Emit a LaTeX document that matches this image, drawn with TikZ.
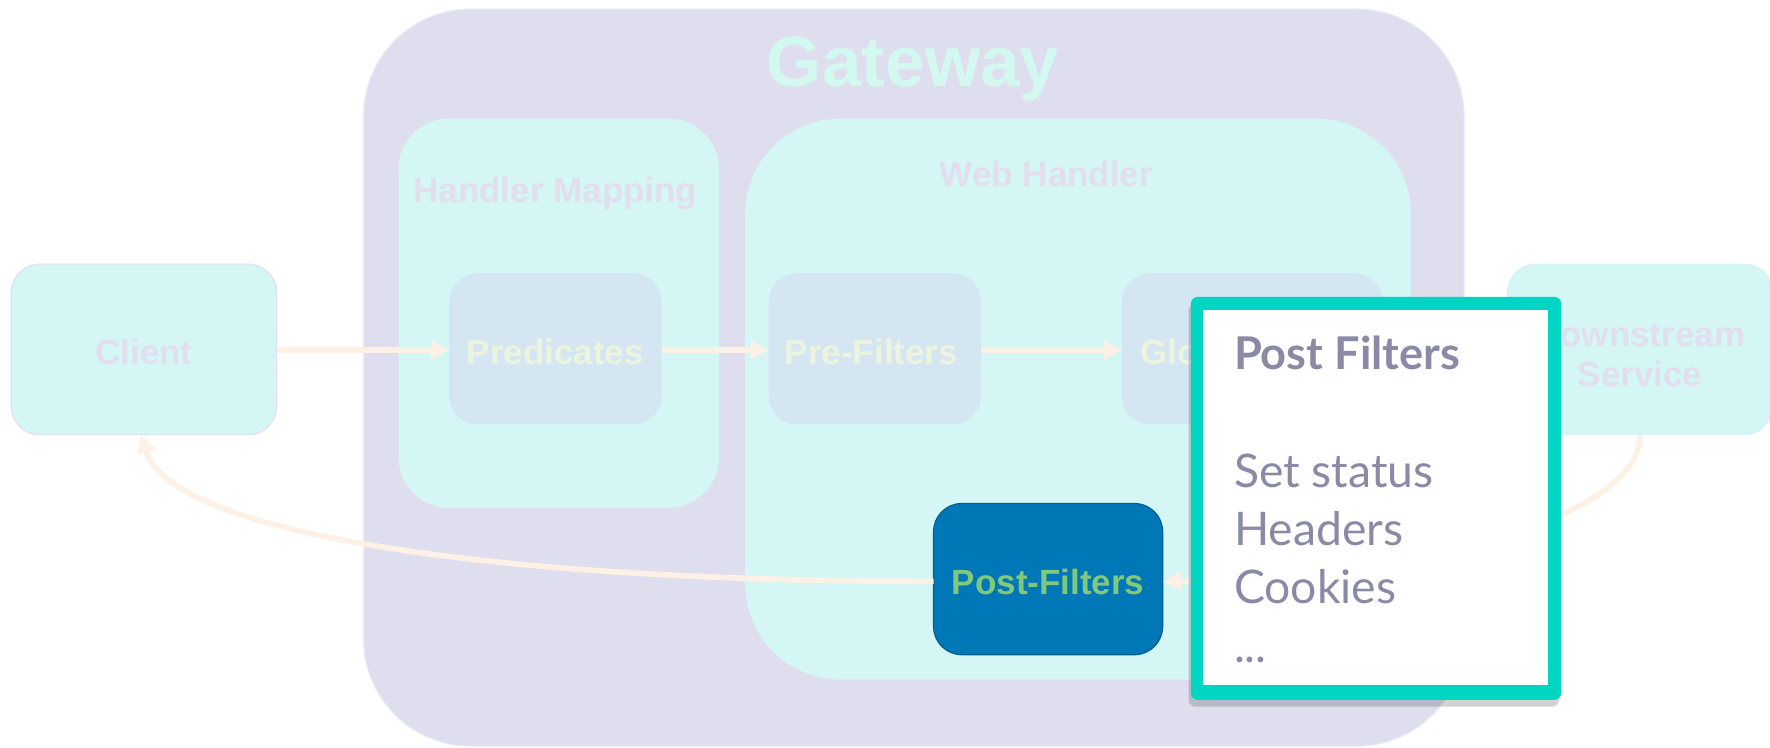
\documentclass[tikz,border=0pt]{standalone}
\usepackage{fontspec}
\setmainfont{Liberation Sans}
\newfontfamily\cardfont{Lato}
\usetikzlibrary{arrows.meta,shadows}
\definecolor{gwfill}{RGB}{222,222,238}
\definecolor{cyanbox}{RGB}{212,246,244}
\definecolor{lav}{RGB}{226,222,240}
\definecolor{gwtext}{RGB}{210,248,240}
\definecolor{bluebox}{RGB}{211,230,241}
\definecolor{paletext}{RGB}{236,243,222}
\definecolor{arrowc}{RGB}{252,241,228}
\definecolor{postblue}{RGB}{0,119,182}
\definecolor{postgreen}{RGB}{128,201,123}
\definecolor{tealb}{RGB}{0,213,194}
\definecolor{cardtext}{RGB}{138,138,166}
\begin{document}
\begin{tikzpicture}[x=1pt,y=-1pt,
  rbox/.style={inner sep=0pt,outer sep=0pt},
  lbl/.style={inner sep=0pt,anchor=base,font=\fontsize{31}{36}\selectfont\bfseries},
  flow/.style={draw=arrowc,line width=5pt,-{Triangle[length=16pt,width=16pt]}},
  cardt/.style={inner sep=0pt,anchor=base west,text=cardtext,font=\cardfont\fontsize{41}{48}\selectfont}
]
\useasboundingbox (0,0) rectangle (1568,662);
% containers
\node[rbox,fill=gwfill,draw=gwfill!60!white,line width=1pt,rounded corners=95pt,minimum width=975pt,minimum height=653pt] (gw) at (809.5,334.5) {};
\node[lbl,text=gwtext,font=\fontsize{63}{70}\selectfont\bfseries] (gwt) at (809,77) {Gateway};
\node[rbox,fill=cyanbox,rounded corners=45pt,minimum width=284pt,minimum height=345pt] (hm) at (495,277.5) {};
\node[lbl,text=lav] (hmt) at (492,179) {Handler Mapping};
\node[rbox,fill=cyanbox,rounded corners=85pt,minimum width=590pt,minimum height=497pt] (wh) at (955,353.5) {};
\node[lbl,text=lav] (wht) at (927,165) {Web Handler};
% outer boxes
\node[rbox,fill=cyanbox,draw=lav,line width=1pt,rounded corners=25pt,minimum width=235pt,minimum height=151pt] (client) at (127.5,309.5) {};
\node[lbl,text=lav] (clientt) at (127.5,323) {Client};
\node[rbox,fill=cyanbox,draw=cyanbox!90!lav,line width=1pt,rounded corners=25pt,minimum width=235pt,minimum height=151pt] (down) at (1453,309.5) {};
\node[lbl,text=lav] (downt1) at (1453,307) {Downstream};
\node[lbl,text=lav] (downt2) at (1453,342) {Service};
% inner boxes
\node[rbox,fill=bluebox,rounded corners=25pt,minimum width=188pt,minimum height=134pt] (pred) at (492,309) {};
\node[lbl,text=paletext] (predt) at (492,323) {Predicates};
\node[rbox,fill=bluebox,rounded corners=25pt,minimum width=188pt,minimum height=134pt] (pre) at (775,309) {};
\node[lbl,text=paletext] (pret) at (772,323) {Pre-Filters};
\node[rbox,fill=bluebox,rounded corners=25pt,minimum width=231pt,minimum height=134pt] (glob) at (1109.5,309) {};
\node[lbl,text=paletext] (globt) at (1110,323) {Global-Filters};
\node[rbox,fill=postblue,draw=postblue!80!black,line width=1pt,rounded corners=25pt,minimum width=203pt,minimum height=134pt] (post) at (928.5,513) {};
\node[lbl,text=postgreen] (postt) at (928.5,527) {Post-Filters};
% connectors
\draw[flow] (client.east |- 0,310) -- (pred.west |- 0,310);
\draw[flow] (pred.east |- 0,310) -- (pre.west |- 0,310);
\draw[flow] (pre.east |- 0,310) -- (glob.west |- 0,310);
\draw[flow] (down.south) .. controls (1453,470) and (1200,515) .. (post.east |- 0,515);
\draw[flow] (post.west |- 0,515) .. controls (420,515) and (150,470) .. (client.south -| 125,0);
% popup card
\node[rbox,fill=tealb,rounded corners=6pt,minimum width=328pt,minimum height=357pt,
      drop shadow={shadow xshift=-2pt,shadow yshift=-6pt,opacity=0.25,fill=black!70}] (card) at (1219,441.5) {};
\node[rbox,fill=white,minimum width=305pt,minimum height=332pt] (cardin) at (1218.5,441) {};
\node[cardt,font=\cardfont\fontsize{40}{46}\selectfont\bfseries] (ct0) at (1093,327) {Post Filters};
\node[cardt] (ct1) at (1093,432) {Set status};
\node[cardt] (ct2) at (1093,483) {Headers};
\node[cardt] (ct3) at (1093,535) {Cookies};
\node[cardt] (ct4) at (1093,587) {...};
\end{tikzpicture}
\end{document}
